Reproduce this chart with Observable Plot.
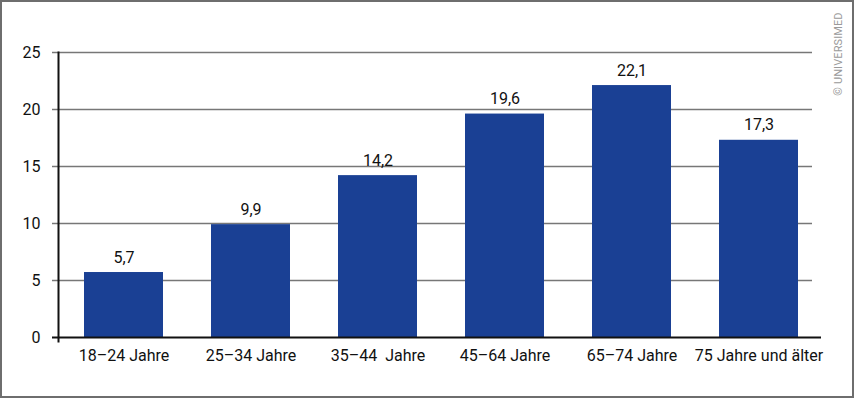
<!DOCTYPE html>
<html>
<head>
<meta charset="utf-8">
<script src="https://cdn.jsdelivr.net/npm/d3@7"></script>
<script src="https://cdn.jsdelivr.net/npm/@observablehq/plot@0.6"></script>
<style>
  html, body { margin: 0; padding: 0; background: #fff; }
  #wrap { position: relative; width: 854px; height: 398px; }
  #wrap svg { display: block; outline: 2px solid #6e6e6e; outline-offset: -2px; }
  #wrap svg text { white-space: pre; }
  #copy {
    position: absolute; left: 838px; top: 54px;
    transform: translate(-50%, -50%) rotate(-90deg);
    font-family: Roboto, "Open Sans", sans-serif; font-size: 11px; color: #9a9a9a;
    white-space: nowrap; letter-spacing: 0.1px;
  }
</style>
</head>
<body>
<div id="wrap"><div id="copy">© UNIVERSIMED</div></div>
<script>
const categories = ["18–24 Jahre", "25–34 Jahre", "35–44  Jahre", "45–64 Jahre", "65–74 Jahre", "75 Jahre und älter"];
const values = [5.7, 9.9, 14.2, 19.6, 22.1, 17.3];
const yTicks = [0, 5, 10, 15, 20, 25];

const data = categories.map((c, i) => ({category: c, value: values[i]}));
const fmt = v => v.toFixed(1).replace(".", ",");

const chart = Plot.plot({
  width: 854,
  height: 398,
  marginLeft: 58,
  marginRight: 33,
  marginTop: 52,
  marginBottom: 61,
  style: {fontFamily: "Roboto, 'Open Sans', sans-serif", background: "transparent", color: "#111"},
  x: {type: "band", domain: categories, range: [56, 826], paddingInner: 0.38, paddingOuter: 0.2, align: 0.5},
  y: {domain: [0, 25]},
  marks: [
    Plot.ruleY(yTicks.filter(t => t > 0), {stroke: "#777", strokeWidth: 1.5, insetLeft: -6, insetRight: 9}),
    Plot.barY(data, {x: "category", y: "value", fill: "#1a4094"}),
    Plot.ruleY([0], {stroke: "#111", strokeWidth: 2, insetLeft: -6}),
    Plot.frame({anchor: "left", stroke: "#111", strokeWidth: 2, insetBottom: -4}),
    Plot.text(data, {x: "category", y: "value", text: d => fmt(d.value), lineAnchor: "bottom", dy: -10, fontSize: 16, fill: "#111"}),
    Plot.axisY(yTicks, {tickSize: 0, tickPadding: 18, fontSize: 16, label: null}),
    Plot.axisX({tickSize: 0, tickPadding: 12, fontSize: 16, label: null})
  ]
});
document.getElementById("wrap").prepend(chart);
</script>
</body>
</html>
